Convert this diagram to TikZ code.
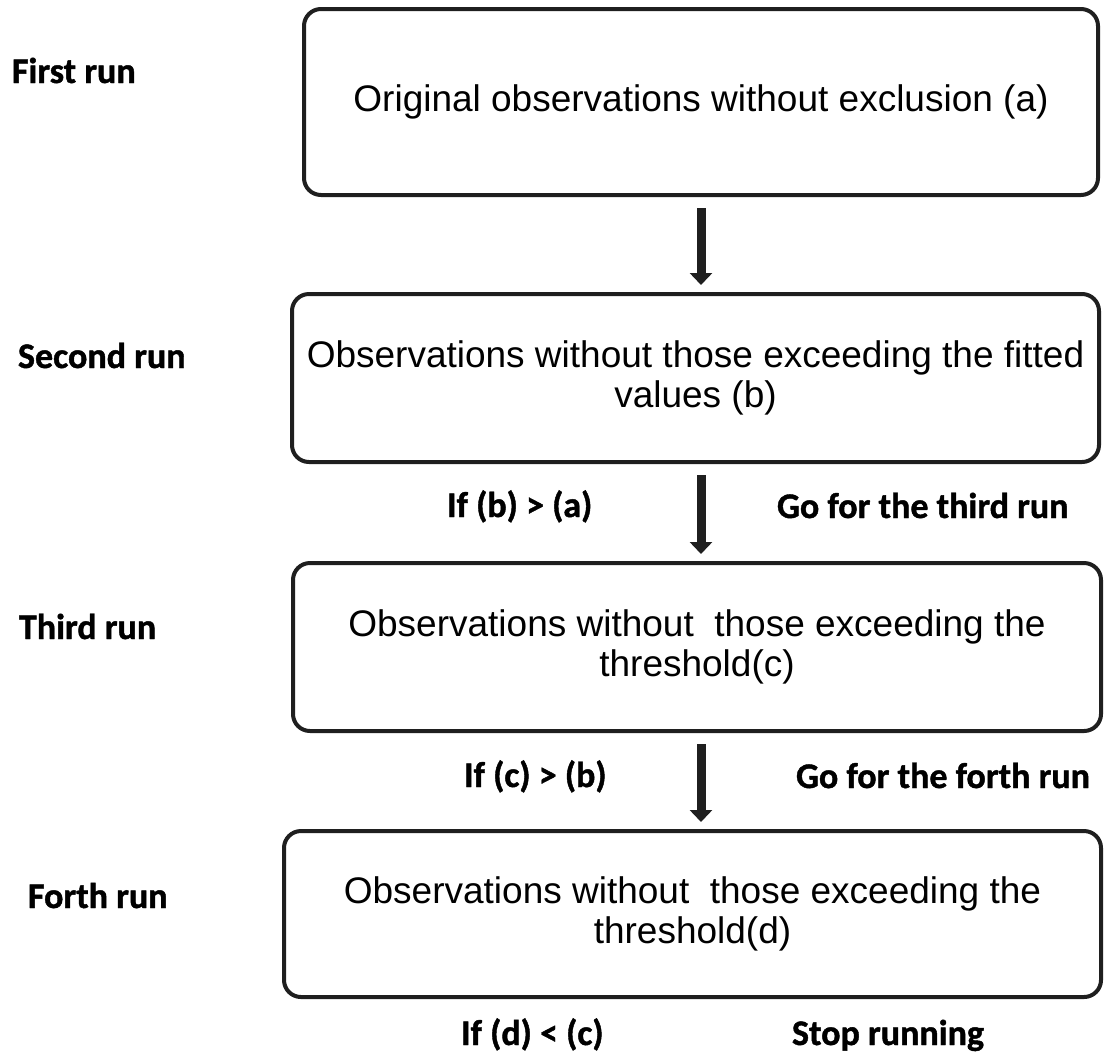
\documentclass[tikz,border=0pt]{standalone}
\usepackage{fontspec}
\setmainfont{Liberation Sans}
\newfontfamily\runfont[BoldFeatures={FakeBold=1.2}]{Carlito}
\usetikzlibrary{arrows.meta,positioning}

\begin{document}
\begin{tikzpicture}[x=1pt,y=-1pt,>={Triangle[width=22pt,length=12pt]},
                    line width=4pt]
  \tikzstyle{runbox}=[draw=black!88,rounded corners=17pt,align=center,
                      font=\fontsize{37}{40}\selectfont,inner sep=0pt]
  \tikzstyle{runlabel}=[anchor=base west,inner sep=0pt,
                      font=\runfont\bfseries\fontsize{36}{40}\selectfont]
  \tikzstyle{flow}=[->,draw=black!88,line width=9pt,shorten <=11pt,shorten >=7pt]

  \useasboundingbox (0,0) rectangle (1105,1053);

  \node[runbox,minimum width=794pt,minimum height=186pt] (B1) at (701,102)
       {Original observations without exclusion (a)};
  \node[runbox,minimum width=807pt,minimum height=168pt] (B2) at (695.5,378)
       {Observations without those exceeding the fitted\\values (b)};
  \node[runbox,minimum width=808pt,minimum height=168pt] (B3) at (697,647)
       {Observations without\ \ those exceeding the\\threshold(c)};
  \node[runbox,minimum width=817pt,minimum height=166pt] (B4) at (692.5,914)
       {Observations without\ \ those exceeding the\\threshold(d)};

  % runs on the left
  \node[runlabel] (R1) at (10,83)  {First run};
  \node[runlabel] (R2) at (16,368) {Second run};
  \node[runlabel] (R3) at (17,639) {Third run};
  \node[runlabel] (R4) at (26,908) {Forth run};

  % conditions
  \node[runlabel] (C1) at (445,517)  {If (b) > (a)};
  \node[runlabel] (G1) at (775,518)  {Go for the third run};
  \node[runlabel] (C2) at (462,787)  {If (c) > (b)};
  \node[runlabel,anchor=base east] (G2) at (1092,788) {Go for the forth run};
  \node[runlabel] (C3) at (459,1045) {If (d) < (c)};
  \node[runlabel] (G3) at (790,1045) {Stop running};

  \path
(B1.south) edge[flow] (B1.south |- B2.north)
(B1.south |- B2.south) edge[flow] (B1.south |- B3.north)
(B1.south |- B3.south) edge[flow] (B1.south |- B4.north);
\end{tikzpicture}
\end{document}
